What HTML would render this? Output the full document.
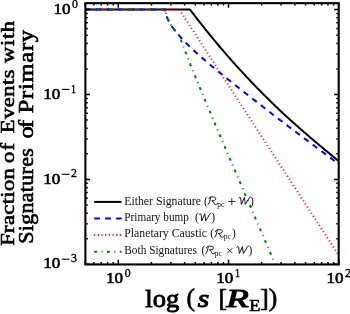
<!DOCTYPE html>
<html><head><meta charset="utf-8"><title>chart</title>
<style>html,body{margin:0;padding:0;background:#fff;width:350px;height:314px;overflow:hidden;font-family:"Liberation Serif",serif}</style></head>
<body>
<svg width="350" height="314" viewBox="0 0 350 314" style="display:block;position:absolute;left:0;top:0;will-change:transform">
<rect width="350" height="314" fill="#fff"/>
<defs><clipPath id="c"><rect x="85.40" y="3.15" width="253.30" height="261.30"/></clipPath></defs>
<g clip-path="url(#c)" fill="none" stroke-width="2">
<path d="M85.13 9.60 L85.76 9.60 L86.39 9.60 L87.03 9.60 L87.66 9.60 L88.30 9.60 L88.93 9.60 L89.56 9.60 L90.20 9.60 L90.83 9.60 L91.47 9.60 L92.10 9.60 L92.73 9.60 L93.37 9.60 L94.00 9.60 L94.64 9.60 L95.27 9.60 L95.90 9.60 L96.54 9.60 L97.17 9.60 L97.81 9.60 L98.44 9.60 L99.07 9.60 L99.71 9.60 L100.34 9.60 L100.97 9.60 L101.61 9.60 L102.24 9.60 L102.88 9.60 L103.51 9.60 L104.14 9.60 L104.78 9.60 L105.41 9.60 L106.05 9.60 L106.68 9.60 L107.31 9.60 L107.95 9.60 L108.58 9.60 L109.22 9.60 L109.85 9.60 L110.48 9.60 L111.12 9.60 L111.75 9.60 L112.39 9.60 L113.02 9.60 L113.65 9.60 L114.29 9.60 L114.92 9.60 L115.56 9.60 L116.19 9.60 L116.82 9.60 L117.46 9.60 L118.09 9.60 L118.72 9.60 L119.36 9.60 L119.99 9.60 L120.63 9.60 L121.26 9.60 L121.89 9.60 L122.53 9.60 L123.16 9.60 L123.80 9.60 L124.43 9.60 L125.06 9.60 L125.70 9.60 L126.33 9.60 L126.97 9.60 L127.60 9.60 L128.23 9.60 L128.87 9.60 L129.50 9.60 L130.14 9.60 L130.77 9.60 L131.40 9.60 L132.04 9.60 L132.67 9.60 L133.31 9.60 L133.94 9.60 L134.57 9.60 L135.21 9.60 L135.84 9.60 L136.48 9.60 L137.11 9.60 L137.74 9.60 L138.38 9.60 L139.01 9.60 L139.64 9.60 L140.28 9.60 L140.91 9.60 L141.55 9.60 L142.18 9.60 L142.81 9.60 L143.45 9.60 L144.08 9.60 L144.72 9.60 L145.35 9.60 L145.98 9.60 L146.62 9.60 L147.25 9.60 L147.89 9.60 L148.52 9.60 L149.15 9.60 L149.79 9.60 L150.42 9.60 L151.06 9.60 L151.69 9.60 L152.32 9.60 L152.96 9.60 L153.59 9.60 L154.23 9.60 L154.86 9.60 L155.49 9.60 L156.13 9.60 L156.76 9.60 L157.39 9.60 L158.03 9.60 L158.66 9.60 L159.30 9.60 L159.93 9.60 L160.56 9.60 L161.20 9.60 L161.83 9.60 L162.47 9.60 L163.10 9.60 L163.73 9.60 L164.37 9.60 L165.00 9.60 L165.64 9.60 L166.27 9.60 L166.90 9.60 L167.54 9.60 L168.17 9.60 L168.81 9.60 L169.44 9.60 L170.07 9.60 L170.71 9.60 L171.34 9.60 L171.98 9.60 L172.61 9.60 L173.24 9.60 L173.88 9.60 L174.51 9.60 L175.15 9.60 L175.78 9.60 L176.41 9.60 L177.05 9.60 L177.68 9.60 L178.31 9.60 L178.95 9.60 L179.58 9.60 L180.22 9.60 L180.85 9.60 L181.48 9.60 L182.12 9.60 L182.75 9.60 L183.39 9.60 L184.02 9.60 L184.65 9.60 L185.29 9.60 L185.92 9.60 L186.56 9.60 L187.19 9.60 L187.82 9.60 L188.46 9.60 L189.09 9.60 L189.73 9.60 L190.36 9.98 L190.99 10.82 L191.63 11.65 L192.26 12.49 L192.90 13.32 L193.53 14.15 L194.16 14.98 L194.80 15.81 L195.43 16.64 L196.06 17.46 L196.70 18.28 L197.33 19.10 L197.97 19.91 L198.60 20.73 L199.23 21.54 L199.87 22.35 L200.50 23.16 L201.14 23.96 L201.77 24.77 L202.40 25.57 L203.04 26.37 L203.67 27.17 L204.31 27.96 L204.94 28.75 L205.57 29.55 L206.21 30.34 L206.84 31.13 L207.48 31.91 L208.11 32.70 L208.74 33.48 L209.38 34.26 L210.01 35.04 L210.65 35.81 L211.28 36.59 L211.91 37.36 L212.55 38.13 L213.18 38.90 L213.82 39.67 L214.45 40.43 L215.08 41.20 L215.72 41.96 L216.35 42.72 L216.98 43.48 L217.62 44.23 L218.25 44.99 L218.89 45.74 L219.52 46.49 L220.15 47.24 L220.79 47.98 L221.42 48.73 L222.06 49.47 L222.69 50.21 L223.32 50.95 L223.96 51.69 L224.59 52.43 L225.23 53.16 L225.86 53.89 L226.49 54.62 L227.13 55.35 L227.76 56.08 L228.40 56.80 L229.03 57.53 L229.66 58.25 L230.30 58.97 L230.93 59.69 L231.57 60.40 L232.20 61.12 L232.83 61.83 L233.47 62.54 L234.10 63.25 L234.73 63.96 L235.37 64.67 L236.00 65.37 L236.64 66.07 L237.27 66.77 L237.90 67.47 L238.54 68.17 L239.17 68.87 L239.81 69.56 L240.44 70.25 L241.07 70.94 L241.71 71.63 L242.34 72.32 L242.98 73.01 L243.61 73.69 L244.24 74.37 L244.88 75.05 L245.51 75.73 L246.15 76.41 L246.78 77.09 L247.41 77.76 L248.05 78.43 L248.68 79.10 L249.32 79.77 L249.95 80.44 L250.58 81.11 L251.22 81.77 L251.85 82.44 L252.49 83.10 L253.12 83.76 L253.75 84.42 L254.39 85.08 L255.02 85.73 L255.65 86.38 L256.29 87.04 L256.92 87.69 L257.56 88.34 L258.19 88.99 L258.82 89.63 L259.46 90.28 L260.09 90.92 L260.73 91.57 L261.36 92.21 L261.99 92.85 L262.63 93.48 L263.26 94.12 L263.90 94.76 L264.53 95.39 L265.16 96.02 L265.80 96.65 L266.43 97.28 L267.07 97.91 L267.70 98.54 L268.33 99.16 L268.97 99.79 L269.60 100.41 L270.24 101.03 L270.87 101.65 L271.50 102.27 L272.14 102.89 L272.77 103.51 L273.40 104.12 L274.04 104.74 L274.67 105.35 L275.31 105.96 L275.94 106.57 L276.57 107.18 L277.21 107.79 L277.84 108.39 L278.48 109.00 L279.11 109.60 L279.74 110.21 L280.38 110.81 L281.01 111.41 L281.65 112.01 L282.28 112.61 L282.91 113.20 L283.55 113.80 L284.18 114.38 L284.82 114.97 L285.45 115.55 L286.08 116.13 L286.72 116.70 L287.35 117.28 L287.99 117.86 L288.62 118.43 L289.25 119.01 L289.89 119.58 L290.52 120.15 L291.15 120.72 L291.79 121.29 L292.42 121.86 L293.06 122.43 L293.69 122.99 L294.32 123.56 L294.96 124.12 L295.59 124.69 L296.23 125.25 L296.86 125.81 L297.49 126.37 L298.13 126.93 L298.76 127.49 L299.40 128.05 L300.03 128.60 L300.66 129.16 L301.30 129.71 L301.93 130.27 L302.57 130.82 L303.20 131.37 L303.83 131.92 L304.47 132.47 L305.10 133.02 L305.74 133.57 L306.37 134.12 L307.00 134.67 L307.64 135.21 L308.27 135.76 L308.91 136.30 L309.54 136.84 L310.17 137.39 L310.81 137.93 L311.44 138.47 L312.07 139.01 L312.71 139.55 L313.34 140.09 L313.98 140.63 L314.61 141.16 L315.24 141.70 L315.88 142.23 L316.51 142.77 L317.15 143.30 L317.78 143.84 L318.41 144.37 L319.05 144.90 L319.68 145.43 L320.32 145.96 L320.95 146.49 L321.58 147.02 L322.22 147.55 L322.85 148.08 L323.49 148.60 L324.12 149.13 L324.75 149.66 L325.39 150.18 L326.02 150.71 L326.66 151.23 L327.29 151.75 L327.92 152.28 L328.56 152.80 L329.19 153.32 L329.82 153.84 L330.46 154.36 L331.09 154.88 L331.73 155.40 L332.36 155.92 L332.99 156.44 L333.63 156.96 L334.26 157.47 L334.90 157.99 L335.53 158.51 L336.16 159.02 L336.80 159.54 L337.43 160.05 L338.07 160.57 L338.70 161.08" stroke="#000"/>
<path d="M85.13 9.60 L85.76 9.60 L86.39 9.60 L87.03 9.60 L87.66 9.60 L88.30 9.60 L88.93 9.60 L89.56 9.60 L90.20 9.60 L90.83 9.60 L91.47 9.60 L92.10 9.60 L92.73 9.60 L93.37 9.60 L94.00 9.60 L94.64 9.60 L95.27 9.60 L95.90 9.60 L96.54 9.60 L97.17 9.60 L97.81 9.60 L98.44 9.60 L99.07 9.60 L99.71 9.60 L100.34 9.60 L100.97 9.60 L101.61 9.60 L102.24 9.60 L102.88 9.60 L103.51 9.60 L104.14 9.60 L104.78 9.60 L105.41 9.60 L106.05 9.60 L106.68 9.60 L107.31 9.60 L107.95 9.60 L108.58 9.60 L109.22 9.60 L109.85 9.60 L110.48 9.60 L111.12 9.60 L111.75 9.60 L112.39 9.60 L113.02 9.60 L113.65 9.60 L114.29 9.60 L114.92 9.60 L115.56 9.60 L116.19 9.60 L116.82 9.60 L117.46 9.60 L118.09 9.60 L118.72 9.60 L119.36 9.60 L119.99 9.60 L120.63 9.60 L121.26 9.60 L121.89 9.60 L122.53 9.60 L123.16 9.60 L123.80 9.60 L124.43 9.60 L125.06 9.60 L125.70 9.60 L126.33 9.60 L126.97 9.60 L127.60 9.60 L128.23 9.60 L128.87 9.60 L129.50 9.60 L130.14 9.60 L130.77 9.60 L131.40 9.60 L132.04 9.60 L132.67 9.60 L133.31 9.60 L133.94 9.60 L134.57 9.60 L135.21 9.60 L135.84 9.60 L136.48 9.60 L137.11 9.60 L137.74 9.60 L138.38 9.60 L139.01 9.60 L139.64 9.60 L140.28 9.60 L140.91 9.60 L141.55 9.60 L142.18 9.60 L142.81 9.60 L143.45 9.60 L144.08 9.60 L144.72 9.60 L145.35 9.60 L145.98 9.60 L146.62 9.60 L147.25 9.60 L147.89 9.60 L148.52 9.60 L149.15 9.60 L149.79 9.60 L150.42 9.60 L151.06 9.60 L151.69 9.60 L152.32 9.60 L152.96 9.60 L153.59 9.60 L154.23 9.60 L154.86 9.60 L155.49 9.60 L156.13 9.60 L156.76 9.60 L157.39 9.60 L158.03 9.60 L158.66 9.60 L159.30 9.60 L159.93 9.60 L160.56 9.60 L161.20 9.60 L161.83 9.60 L162.47 9.60 L163.10 9.60 L163.73 9.60 L164.37 9.60 L165.00 9.60 L165.64 12.54 L166.27 15.20 L166.90 17.06 L167.54 18.62 L168.17 19.99 L168.81 21.24 L169.44 22.40 L170.07 23.49 L170.71 24.53 L171.34 25.52 L171.98 26.47 L172.61 27.39 L173.24 28.28 L173.88 29.14 L174.51 29.98 L175.15 30.80 L175.78 31.61 L176.41 32.39 L177.05 33.16 L177.68 33.92 L178.31 34.67 L178.95 35.40 L179.58 36.12 L180.22 36.83 L180.85 37.53 L181.48 38.22 L182.12 38.90 L182.75 39.58 L183.39 40.25 L184.02 40.91 L184.65 41.56 L185.29 42.21 L185.92 42.85 L186.56 43.49 L187.19 44.12 L187.82 44.75 L188.46 45.37 L189.09 45.98 L189.73 46.59 L190.36 47.20 L190.99 47.80 L191.63 48.40 L192.26 49.00 L192.90 49.59 L193.53 50.18 L194.16 50.76 L194.80 51.35 L195.43 51.93 L196.06 52.50 L196.70 53.07 L197.33 53.65 L197.97 54.21 L198.60 54.78 L199.23 55.34 L199.87 55.90 L200.50 56.46 L201.14 57.02 L201.77 57.57 L202.40 58.12 L203.04 58.67 L203.67 59.22 L204.31 59.77 L204.94 60.31 L205.57 60.86 L206.21 61.40 L206.84 61.94 L207.48 62.48 L208.11 63.02 L208.74 63.55 L209.38 64.09 L210.01 64.62 L210.65 65.15 L211.28 65.68 L211.91 66.21 L212.55 66.74 L213.18 67.27 L213.82 67.79 L214.45 68.32 L215.08 68.84 L215.72 69.36 L216.35 69.88 L216.98 70.40 L217.62 70.92 L218.25 71.44 L218.89 71.96 L219.52 72.48 L220.15 73.00 L220.79 73.51 L221.42 74.03 L222.06 74.54 L222.69 75.05 L223.32 75.57 L223.96 76.08 L224.59 76.59 L225.23 77.10 L225.86 77.61 L226.49 78.12 L227.13 78.63 L227.76 79.14 L228.40 79.65 L229.03 80.15 L229.66 80.66 L230.30 81.17 L230.93 81.67 L231.57 82.18 L232.20 82.68 L232.83 83.19 L233.47 83.69 L234.10 84.20 L234.73 84.70 L235.37 85.20 L236.00 85.71 L236.64 86.21 L237.27 86.71 L237.90 87.21 L238.54 87.71 L239.17 88.21 L239.81 88.71 L240.44 89.21 L241.07 89.71 L241.71 90.21 L242.34 90.71 L242.98 91.21 L243.61 91.71 L244.24 92.21 L244.88 92.70 L245.51 93.20 L246.15 93.70 L246.78 94.20 L247.41 94.69 L248.05 95.19 L248.68 95.69 L249.32 96.18 L249.95 96.68 L250.58 97.18 L251.22 97.67 L251.85 98.17 L252.49 98.66 L253.12 99.16 L253.75 99.65 L254.39 100.15 L255.02 100.64 L255.65 101.14 L256.29 101.63 L256.92 102.12 L257.56 102.62 L258.19 103.11 L258.82 103.61 L259.46 104.10 L260.09 104.59 L260.73 105.09 L261.36 105.58 L261.99 106.07 L262.63 106.57 L263.26 107.06 L263.90 107.55 L264.53 108.04 L265.16 108.54 L265.80 109.03 L266.43 109.52 L267.07 110.01 L267.70 110.50 L268.33 111.00 L268.97 111.49 L269.60 111.98 L270.24 112.47 L270.87 112.96 L271.50 113.45 L272.14 113.95 L272.77 114.44 L273.40 114.93 L274.04 115.42 L274.67 115.91 L275.31 116.40 L275.94 116.89 L276.57 117.38 L277.21 117.87 L277.84 118.37 L278.48 118.86 L279.11 119.35 L279.74 119.84 L280.38 120.33 L281.01 120.82 L281.65 121.31 L282.28 121.80 L282.91 122.29 L283.55 122.78 L284.18 123.26 L284.82 123.73 L285.45 124.21 L286.08 124.68 L286.72 125.16 L287.35 125.63 L287.99 126.11 L288.62 126.58 L289.25 127.06 L289.89 127.53 L290.52 128.01 L291.15 128.48 L291.79 128.96 L292.42 129.43 L293.06 129.91 L293.69 130.38 L294.32 130.86 L294.96 131.33 L295.59 131.81 L296.23 132.28 L296.86 132.76 L297.49 133.23 L298.13 133.71 L298.76 134.18 L299.40 134.66 L300.03 135.13 L300.66 135.60 L301.30 136.08 L301.93 136.55 L302.57 137.03 L303.20 137.50 L303.83 137.98 L304.47 138.45 L305.10 138.93 L305.74 139.40 L306.37 139.88 L307.00 140.35 L307.64 140.82 L308.27 141.30 L308.91 141.77 L309.54 142.25 L310.17 142.72 L310.81 143.20 L311.44 143.67 L312.07 144.15 L312.71 144.62 L313.34 145.09 L313.98 145.57 L314.61 146.04 L315.24 146.52 L315.88 146.99 L316.51 147.47 L317.15 147.94 L317.78 148.41 L318.41 148.89 L319.05 149.36 L319.68 149.84 L320.32 150.31 L320.95 150.79 L321.58 151.26 L322.22 151.73 L322.85 152.21 L323.49 152.68 L324.12 153.16 L324.75 153.63 L325.39 154.11 L326.02 154.58 L326.66 155.05 L327.29 155.53 L327.92 156.00 L328.56 156.48 L329.19 156.95 L329.82 157.43 L330.46 157.90 L331.09 158.37 L331.73 158.85 L332.36 159.32 L332.99 159.80 L333.63 160.27 L334.26 160.74 L334.90 161.22 L335.53 161.69 L336.16 162.17 L336.80 162.64 L337.43 163.12 L338.07 163.59 L338.70 164.06" stroke="#0000ff" stroke-dasharray="5.65 5.22" stroke-dashoffset="0.10"/>
<path d="M85.13 9.60 L85.76 9.60 L86.39 9.60 L87.03 9.60 L87.66 9.60 L88.30 9.60 L88.93 9.60 L89.56 9.60 L90.20 9.60 L90.83 9.60 L91.47 9.60 L92.10 9.60 L92.73 9.60 L93.37 9.60 L94.00 9.60 L94.64 9.60 L95.27 9.60 L95.90 9.60 L96.54 9.60 L97.17 9.60 L97.81 9.60 L98.44 9.60 L99.07 9.60 L99.71 9.60 L100.34 9.60 L100.97 9.60 L101.61 9.60 L102.24 9.60 L102.88 9.60 L103.51 9.60 L104.14 9.60 L104.78 9.60 L105.41 9.60 L106.05 9.60 L106.68 9.60 L107.31 9.60 L107.95 9.60 L108.58 9.60 L109.22 9.60 L109.85 9.60 L110.48 9.60 L111.12 9.60 L111.75 9.60 L112.39 9.60 L113.02 9.60 L113.65 9.60 L114.29 9.60 L114.92 9.60 L115.56 9.60 L116.19 9.60 L116.82 9.60 L117.46 9.60 L118.09 9.60 L118.72 9.60 L119.36 9.60 L119.99 9.60 L120.63 9.60 L121.26 9.60 L121.89 9.60 L122.53 9.60 L123.16 9.60 L123.80 9.60 L124.43 9.60 L125.06 9.60 L125.70 9.60 L126.33 9.60 L126.97 9.60 L127.60 9.60 L128.23 9.60 L128.87 9.60 L129.50 9.60 L130.14 9.60 L130.77 9.60 L131.40 9.60 L132.04 9.60 L132.67 9.60 L133.31 9.60 L133.94 9.60 L134.57 9.60 L135.21 9.60 L135.84 9.60 L136.48 9.60 L137.11 9.60 L137.74 9.60 L138.38 9.60 L139.01 9.60 L139.64 9.60 L140.28 9.60 L140.91 9.60 L141.55 9.60 L142.18 9.60 L142.81 9.60 L143.45 9.60 L144.08 9.60 L144.72 9.60 L145.35 9.60 L145.98 9.60 L146.62 9.60 L147.25 9.60 L147.89 9.60 L148.52 9.60 L149.15 9.60 L149.79 9.60 L150.42 9.60 L151.06 9.60 L151.69 9.60 L152.32 9.60 L152.96 9.60 L153.59 9.60 L154.23 9.60 L154.86 9.60 L155.49 9.60 L156.13 9.60 L156.76 9.60 L157.39 9.60 L158.03 9.60 L158.66 9.60 L159.30 9.60 L159.93 9.60 L160.56 9.60 L161.20 9.60 L161.83 9.60 L162.47 9.60 L163.10 9.60 L163.73 9.60 L164.37 9.60 L165.00 9.60 L165.64 9.60 L166.27 9.60 L166.90 9.60 L167.54 9.60 L168.17 9.60 L168.81 9.60 L169.44 9.60 L170.07 9.60 L170.71 9.60 L171.34 9.60 L171.98 9.60 L172.61 9.60 L173.24 9.60 L173.88 9.60 L174.51 9.60 L175.15 9.60 L175.78 9.60 L176.41 9.60 L177.05 9.60 L177.68 9.60 L178.31 9.60 L178.95 9.60 L179.58 10.08 L180.22 11.06 L180.85 12.03 L181.48 13.01 L182.12 13.99 L182.75 14.96 L183.39 15.94 L184.02 16.92 L184.65 17.89 L185.29 18.87 L185.92 19.85 L186.56 20.82 L187.19 21.80 L187.82 22.78 L188.46 23.76 L189.09 24.73 L189.73 25.71 L190.36 26.69 L190.99 27.66 L191.63 28.64 L192.26 29.62 L192.90 30.59 L193.53 31.57 L194.16 32.55 L194.80 33.52 L195.43 34.50 L196.06 35.48 L196.70 36.45 L197.33 37.43 L197.97 38.41 L198.60 39.38 L199.23 40.36 L199.87 41.34 L200.50 42.31 L201.14 43.29 L201.77 44.27 L202.40 45.24 L203.04 46.22 L203.67 47.20 L204.31 48.17 L204.94 49.15 L205.57 50.13 L206.21 51.11 L206.84 52.08 L207.48 53.06 L208.11 54.04 L208.74 55.01 L209.38 55.99 L210.01 56.97 L210.65 57.94 L211.28 58.92 L211.91 59.90 L212.55 60.87 L213.18 61.85 L213.82 62.83 L214.45 63.80 L215.08 64.78 L215.72 65.76 L216.35 66.73 L216.98 67.71 L217.62 68.69 L218.25 69.66 L218.89 70.64 L219.52 71.62 L220.15 72.59 L220.79 73.57 L221.42 74.55 L222.06 75.52 L222.69 76.50 L223.32 77.48 L223.96 78.46 L224.59 79.43 L225.23 80.41 L225.86 81.39 L226.49 82.36 L227.13 83.34 L227.76 84.32 L228.40 85.29 L229.03 86.27 L229.66 87.25 L230.30 88.22 L230.93 89.20 L231.57 90.18 L232.20 91.15 L232.83 92.13 L233.47 93.11 L234.10 94.08 L234.73 95.06 L235.37 96.04 L236.00 97.01 L236.64 97.99 L237.27 98.97 L237.90 99.94 L238.54 100.92 L239.17 101.90 L239.81 102.87 L240.44 103.85 L241.07 104.83 L241.71 105.81 L242.34 106.78 L242.98 107.76 L243.61 108.74 L244.24 109.71 L244.88 110.69 L245.51 111.67 L246.15 112.64 L246.78 113.62 L247.41 114.60 L248.05 115.57 L248.68 116.55 L249.32 117.53 L249.95 118.50 L250.58 119.48 L251.22 120.46 L251.85 121.43 L252.49 122.41 L253.12 123.39 L253.75 124.36 L254.39 125.34 L255.02 126.32 L255.65 127.29 L256.29 128.27 L256.92 129.25 L257.56 130.22 L258.19 131.20 L258.82 132.18 L259.46 133.16 L260.09 134.13 L260.73 135.11 L261.36 136.09 L261.99 137.06 L262.63 138.04 L263.26 139.02 L263.90 139.99 L264.53 140.97 L265.16 141.95 L265.80 142.92 L266.43 143.90 L267.07 144.88 L267.70 145.85 L268.33 146.83 L268.97 147.81 L269.60 148.78 L270.24 149.76 L270.87 150.74 L271.50 151.71 L272.14 152.69 L272.77 153.67 L273.40 154.64 L274.04 155.62 L274.67 156.60 L275.31 157.58 L275.94 158.55 L276.57 159.53 L277.21 160.51 L277.84 161.48 L278.48 162.46 L279.11 163.44 L279.74 164.41 L280.38 165.39 L281.01 166.37 L281.65 167.34 L282.28 168.32 L282.91 169.30 L283.55 170.27 L284.18 171.25 L284.82 172.23 L285.45 173.20 L286.08 174.18 L286.72 175.16 L287.35 176.13 L287.99 177.11 L288.62 178.09 L289.25 179.06 L289.89 180.04 L290.52 181.02 L291.15 181.99 L291.79 182.97 L292.42 183.95 L293.06 184.93 L293.69 185.90 L294.32 186.88 L294.96 187.86 L295.59 188.83 L296.23 189.81 L296.86 190.79 L297.49 191.76 L298.13 192.74 L298.76 193.72 L299.40 194.69 L300.03 195.67 L300.66 196.65 L301.30 197.62 L301.93 198.60 L302.57 199.58 L303.20 200.55 L303.83 201.53 L304.47 202.51 L305.10 203.48 L305.74 204.46 L306.37 205.44 L307.00 206.41 L307.64 207.39 L308.27 208.37 L308.91 209.34 L309.54 210.32 L310.17 211.30 L310.81 212.28 L311.44 213.25 L312.07 214.23 L312.71 215.21 L313.34 216.18 L313.98 217.16 L314.61 218.14 L315.24 219.11 L315.88 220.09 L316.51 221.07 L317.15 222.04 L317.78 223.02 L318.41 224.00 L319.05 224.97 L319.68 225.95 L320.32 226.93 L320.95 227.90 L321.58 228.88 L322.22 229.86 L322.85 230.83 L323.49 231.81 L324.12 232.79 L324.75 233.76 L325.39 234.74 L326.02 235.72 L326.66 236.69 L327.29 237.67 L327.92 238.65 L328.56 239.63 L329.19 240.60 L329.82 241.58 L330.46 242.56 L331.09 243.53 L331.73 244.51 L332.36 245.49 L332.99 246.46 L333.63 247.44 L334.26 248.42 L334.90 249.39 L335.53 250.37 L336.16 251.35 L336.80 252.32 L337.43 253.30 L338.07 254.28 L338.70 255.25" stroke="#ff0000" stroke-dasharray="1.0 2.67" stroke-dashoffset="1.40"/>
<path d="M85.13 9.60 L85.76 9.60 L86.39 9.60 L87.03 9.60 L87.66 9.60 L88.30 9.60 L88.93 9.60 L89.56 9.60 L90.20 9.60 L90.83 9.60 L91.47 9.60 L92.10 9.60 L92.73 9.60 L93.37 9.60 L94.00 9.60 L94.64 9.60 L95.27 9.60 L95.90 9.60 L96.54 9.60 L97.17 9.60 L97.81 9.60 L98.44 9.60 L99.07 9.60 L99.71 9.60 L100.34 9.60 L100.97 9.60 L101.61 9.60 L102.24 9.60 L102.88 9.60 L103.51 9.60 L104.14 9.60 L104.78 9.60 L105.41 9.60 L106.05 9.60 L106.68 9.60 L107.31 9.60 L107.95 9.60 L108.58 9.60 L109.22 9.60 L109.85 9.60 L110.48 9.60 L111.12 9.60 L111.75 9.60 L112.39 9.60 L113.02 9.60 L113.65 9.60 L114.29 9.60 L114.92 9.60 L115.56 9.60 L116.19 9.60 L116.82 9.60 L117.46 9.60 L118.09 9.60 L118.72 9.60 L119.36 9.60 L119.99 9.60 L120.63 9.60 L121.26 9.60 L121.89 9.60 L122.53 9.60 L123.16 9.60 L123.80 9.60 L124.43 9.60 L125.06 9.60 L125.70 9.60 L126.33 9.60 L126.97 9.60 L127.60 9.60 L128.23 9.60 L128.87 9.60 L129.50 9.60 L130.14 9.60 L130.77 9.60 L131.40 9.60 L132.04 9.60 L132.67 9.60 L133.31 9.60 L133.94 9.60 L134.57 9.60 L135.21 9.60 L135.84 9.60 L136.48 9.60 L137.11 9.60 L137.74 9.60 L138.38 9.60 L139.01 9.60 L139.64 9.60 L140.28 9.60 L140.91 9.60 L141.55 9.60 L142.18 9.60 L142.81 9.60 L143.45 9.60 L144.08 9.60 L144.72 9.60 L145.35 9.60 L145.98 9.60 L146.62 9.60 L147.25 9.60 L147.89 9.60 L148.52 9.60 L149.15 9.60 L149.79 9.60 L150.42 9.60 L151.06 9.60 L151.69 9.60 L152.32 9.60 L152.96 9.60 L153.59 9.60 L154.23 9.60 L154.86 9.60 L155.49 9.60 L156.13 9.60 L156.76 9.60 L157.39 9.60 L158.03 9.60 L158.66 9.60 L159.30 9.60 L159.93 9.60 L160.56 9.60 L161.20 9.60 L161.83 9.60 L162.47 9.60 L163.10 9.60 L163.73 9.60 L164.37 9.60 L165.00 9.60 L165.64 12.54 L166.27 15.20 L166.90 17.06 L167.54 18.62 L168.17 19.99 L168.81 21.24 L169.44 22.40 L170.07 23.49 L170.71 24.53 L171.34 25.52 L171.98 26.47 L172.61 27.39 L173.24 28.28 L173.88 29.14 L174.51 29.98 L175.15 30.80 L175.78 31.61 L176.41 32.39 L177.05 33.16 L177.68 33.92 L178.31 34.67 L178.95 35.40 L179.58 36.60 L180.22 38.29 L180.85 39.96 L181.48 41.63 L182.12 43.29 L182.75 44.94 L183.39 46.59 L184.02 48.23 L184.65 49.86 L185.29 51.48 L185.92 53.10 L186.56 54.71 L187.19 56.32 L187.82 57.92 L188.46 59.52 L189.09 61.11 L189.73 62.70 L190.36 64.29 L190.99 65.87 L191.63 67.44 L192.26 69.01 L192.90 70.58 L193.53 72.15 L194.16 73.71 L194.80 75.27 L195.43 76.82 L196.06 78.38 L196.70 79.93 L197.33 81.48 L197.97 83.02 L198.60 84.56 L199.23 86.10 L199.87 87.64 L200.50 89.18 L201.14 90.71 L201.77 92.24 L202.40 93.77 L203.04 95.30 L203.67 96.82 L204.31 98.34 L204.94 99.87 L205.57 101.39 L206.21 102.91 L206.84 104.42 L207.48 105.94 L208.11 107.45 L208.74 108.96 L209.38 110.47 L210.01 111.98 L210.65 113.49 L211.28 115.00 L211.91 116.51 L212.55 118.01 L213.18 119.52 L213.82 121.02 L214.45 122.52 L215.08 124.02 L215.72 125.52 L216.35 127.02 L216.98 128.52 L217.62 130.01 L218.25 131.51 L218.89 133.00 L219.52 134.50 L220.15 135.99 L220.79 137.48 L221.42 138.97 L222.06 140.47 L222.69 141.96 L223.32 143.45 L223.96 144.93 L224.59 146.42 L225.23 147.91 L225.86 149.40 L226.49 150.88 L227.13 152.37 L227.76 153.86 L228.40 155.34 L229.03 156.82 L229.66 158.31 L230.30 159.79 L230.93 161.27 L231.57 162.76 L232.20 164.24 L232.83 165.72 L233.47 167.20 L234.10 168.68 L234.73 170.16 L235.37 171.64 L236.00 173.12 L236.64 174.60 L237.27 176.08 L237.90 177.55 L238.54 179.03 L239.17 180.51 L239.81 181.99 L240.44 183.46 L241.07 184.94 L241.71 186.42 L242.34 187.89 L242.98 189.37 L243.61 190.84 L244.24 192.32 L244.88 193.79 L245.51 195.27 L246.15 196.74 L246.78 198.22 L247.41 199.69 L248.05 201.16 L248.68 202.64 L249.32 204.11 L249.95 205.58 L250.58 207.06 L251.22 208.53 L251.85 210.00 L252.49 211.47 L253.12 212.94 L253.75 214.42 L254.39 215.89 L255.02 217.36 L255.65 218.83 L256.29 220.30 L256.92 221.77 L257.56 223.24 L258.19 224.71 L258.82 226.18 L259.46 227.65 L260.09 229.12 L260.73 230.59 L261.36 232.06 L261.99 233.53 L262.63 235.00 L263.26 236.47 L263.90 237.94 L264.53 239.41 L265.16 240.88 L265.80 242.35 L266.43 243.82 L267.07 245.29 L267.70 246.76 L268.33 248.23 L268.97 249.70 L269.60 251.16 L270.24 252.63 L270.87 254.10 L271.50 255.57 L272.14 257.04 L272.77 258.51 L273.40 259.97 L274.04 261.44 L274.67 262.91 L275.31 264.38 L275.34 264.45" stroke="#008000" stroke-dasharray="2.9 4.5 1.0 4.4" stroke-dashoffset="1.00"/>
</g>
<rect x="85.40" y="3.15" width="253.30" height="261.30" fill="none" stroke="#000" stroke-width="2.1"/>
<path d="M85.13 264.45L85.13 262.05M85.13 3.15L85.13 5.55M93.85 264.45L93.85 262.05M93.85 3.15L93.85 5.55M101.23 264.45L101.23 262.05M101.23 3.15L101.23 5.55M107.62 264.45L107.62 262.05M107.62 3.15L107.62 5.55M113.26 264.45L113.26 262.05M113.26 3.15L113.26 5.55M118.30 264.45L118.30 259.85M118.30 3.15L118.30 7.75M151.47 264.45L151.47 262.05M151.47 3.15L151.47 5.55M170.88 264.45L170.88 262.05M170.88 3.15L170.88 5.55M184.65 264.45L184.65 262.05M184.65 3.15L184.65 5.55M195.33 264.45L195.33 262.05M195.33 3.15L195.33 5.55M204.05 264.45L204.05 262.05M204.05 3.15L204.05 5.55M211.43 264.45L211.43 262.05M211.43 3.15L211.43 5.55M217.82 264.45L217.82 262.05M217.82 3.15L217.82 5.55M223.46 264.45L223.46 262.05M223.46 3.15L223.46 5.55M228.50 264.45L228.50 259.85M228.50 3.15L228.50 7.75M261.67 264.45L261.67 262.05M261.67 3.15L261.67 5.55M281.08 264.45L281.08 262.05M281.08 3.15L281.08 5.55M294.85 264.45L294.85 262.05M294.85 3.15L294.85 5.55M305.53 264.45L305.53 262.05M305.53 3.15L305.53 5.55M314.25 264.45L314.25 262.05M314.25 3.15L314.25 5.55M321.63 264.45L321.63 262.05M321.63 3.15L321.63 5.55M328.02 264.45L328.02 262.05M328.02 3.15L328.02 5.55M333.66 264.45L333.66 262.05M333.66 3.15L333.66 5.55M338.70 264.45L338.70 259.85M338.70 3.15L338.70 7.75M85.40 264.30L90.00 264.30M338.70 264.30L334.10 264.30M85.40 238.74L87.80 238.74M338.70 238.74L336.30 238.74M85.40 223.79L87.80 223.79M338.70 223.79L336.30 223.79M85.40 213.19L87.80 213.19M338.70 213.19L336.30 213.19M85.40 204.96L87.80 204.96M338.70 204.96L336.30 204.96M85.40 198.23L87.80 198.23M338.70 198.23L336.30 198.23M85.40 192.55L87.80 192.55M338.70 192.55L336.30 192.55M85.40 187.63L87.80 187.63M338.70 187.63L336.30 187.63M85.40 183.28L87.80 183.28M338.70 183.28L336.30 183.28M85.40 179.40L90.00 179.40M338.70 179.40L334.10 179.40M85.40 153.84L87.80 153.84M338.70 153.84L336.30 153.84M85.40 138.89L87.80 138.89M338.70 138.89L336.30 138.89M85.40 128.29L87.80 128.29M338.70 128.29L336.30 128.29M85.40 120.06L87.80 120.06M338.70 120.06L336.30 120.06M85.40 113.33L87.80 113.33M338.70 113.33L336.30 113.33M85.40 107.65L87.80 107.65M338.70 107.65L336.30 107.65M85.40 102.73L87.80 102.73M338.70 102.73L336.30 102.73M85.40 98.38L87.80 98.38M338.70 98.38L336.30 98.38M85.40 94.50L90.00 94.50M338.70 94.50L334.10 94.50M85.40 68.94L87.80 68.94M338.70 68.94L336.30 68.94M85.40 53.99L87.80 53.99M338.70 53.99L336.30 53.99M85.40 43.39L87.80 43.39M338.70 43.39L336.30 43.39M85.40 35.16L87.80 35.16M338.70 35.16L336.30 35.16M85.40 28.43L87.80 28.43M338.70 28.43L336.30 28.43M85.40 22.75L87.80 22.75M338.70 22.75L336.30 22.75M85.40 17.83L87.80 17.83M338.70 17.83L336.30 17.83M85.40 13.48L87.80 13.48M338.70 13.48L336.30 13.48M85.40 9.60L90.00 9.60M338.70 9.60L334.10 9.60" stroke="#000" stroke-width="1.5" fill="none"/>
<g fill="none" stroke-width="2">
<path d="M94.2 201.9H121.6" stroke="#000"/>
<path d="M94.2 218.4H121.6" stroke="#0000ff" stroke-dasharray="5.7 5.3"/>
<path d="M94.2 235H121.6" stroke="#ff0000" stroke-dasharray="1.0 2.67"/>
<path d="M94.2 251.7H121.6" stroke="#008000" stroke-dasharray="2.9 4.5 1.0 4.4"/>
</g>
<g font-family="'Liberation Serif', serif" font-size="11.6" fill="#111">
<text x="124.3" y="204.5" textLength="76.6" lengthAdjust="spacingAndGlyphs" >Either Signature</text><text x="204.1" y="204.5" >(</text><path d="M2.6 -6.5C2.3 -4.2 1.7 -1.6 0.3 -0.1M1.0 -5.3C1.0 -6.4 2.2 -6.9 3.8 -6.9C5.9 -6.9 7.3 -6.5 7.3 -5.3C7.3 -4.0 5.4 -3.5 3.6 -3.4C5.2 -3.3 5.3 -1.2 6.1 -0.3C6.8 0.4 7.9 -0.1 8.8 -1.0" transform="translate(207.80 204.50) scale(1.100)" fill="none" stroke="#111" stroke-width="0.9" stroke-linejoin="round" stroke-linecap="round"/><text x="217.2" y="206.5" textLength="7.0" lengthAdjust="spacingAndGlyphs" font-size="7.4">pc</text><path d="M228.20 201.50h7.2M231.80 197.90v7.2" stroke="#111" stroke-width="0.85" fill="none"/><path d="M0.2 -6.0C0.6 -6.9 1.7 -7.0 1.9 -6.0L2.6 -0.1L5.4 -6.6L6.2 -0.1C7.6 -2.0 9.0 -4.6 9.9 -6.2C10.2 -6.8 10.5 -7.0 10.8 -6.9" transform="translate(238.60 204.50) scale(1.080)" fill="none" stroke="#111" stroke-width="0.9" stroke-linejoin="round" stroke-linecap="round"/><text x="250.1" y="204.5" >)</text>
<text x="124.3" y="220.9" textLength="64.6" lengthAdjust="spacingAndGlyphs" >Primary bump</text><text x="195.0" y="220.9" >(</text><path d="M0.2 -6.0C0.6 -6.9 1.7 -7.0 1.9 -6.0L2.6 -0.1L5.4 -6.6L6.2 -0.1C7.6 -2.0 9.0 -4.6 9.9 -6.2C10.2 -6.8 10.5 -7.0 10.8 -6.9" transform="translate(199.00 220.90) scale(1.080)" fill="none" stroke="#111" stroke-width="0.9" stroke-linejoin="round" stroke-linecap="round"/><text x="211.2" y="220.9" >)</text>
<text x="124.3" y="237.3" textLength="82.6" lengthAdjust="spacingAndGlyphs" >Planetary Caustic</text><text x="210.2" y="237.3" >(</text><path d="M2.6 -6.5C2.3 -4.2 1.7 -1.6 0.3 -0.1M1.0 -5.3C1.0 -6.4 2.2 -6.9 3.8 -6.9C5.9 -6.9 7.3 -6.5 7.3 -5.3C7.3 -4.0 5.4 -3.5 3.6 -3.4C5.2 -3.3 5.3 -1.2 6.1 -0.3C6.8 0.4 7.9 -0.1 8.8 -1.0" transform="translate(214.40 237.30) scale(1.100)" fill="none" stroke="#111" stroke-width="0.9" stroke-linejoin="round" stroke-linecap="round"/><text x="223.8" y="239.3" textLength="7.0" lengthAdjust="spacingAndGlyphs" font-size="7.4">pc</text><text x="232.0" y="237.3" >)</text>
<text x="124.3" y="253.7" textLength="72.6" lengthAdjust="spacingAndGlyphs" >Both Signatures</text><text x="201.6" y="253.7" >(</text><path d="M2.6 -6.5C2.3 -4.2 1.7 -1.6 0.3 -0.1M1.0 -5.3C1.0 -6.4 2.2 -6.9 3.8 -6.9C5.9 -6.9 7.3 -6.5 7.3 -5.3C7.3 -4.0 5.4 -3.5 3.6 -3.4C5.2 -3.3 5.3 -1.2 6.1 -0.3C6.8 0.4 7.9 -0.1 8.8 -1.0" transform="translate(205.40 253.70) scale(1.100)" fill="none" stroke="#111" stroke-width="0.9" stroke-linejoin="round" stroke-linecap="round"/><text x="214.8" y="255.7" textLength="7.0" lengthAdjust="spacingAndGlyphs" font-size="7.4">pc</text><path d="M227.20 248.10l5.2 5.2M227.20 253.30l5.2 -5.2" stroke="#111" stroke-width="0.85" fill="none"/><path d="M0.2 -6.0C0.6 -6.9 1.7 -7.0 1.9 -6.0L2.6 -0.1L5.4 -6.6L6.2 -0.1C7.6 -2.0 9.0 -4.6 9.9 -6.2C10.2 -6.8 10.5 -7.0 10.8 -6.9" transform="translate(236.60 253.70) scale(1.080)" fill="none" stroke="#111" stroke-width="0.9" stroke-linejoin="round" stroke-linecap="round"/><text x="248.6" y="253.7" >)</text>
</g>
<g font-family="'Liberation Serif', serif" font-weight="normal" fill="#000" stroke="#000" stroke-width="0.6">
<text x="53.4" y="13.7" font-size="15.4" textLength="17.0" lengthAdjust="spacingAndGlyphs">10</text><text x="71.9" y="7.6" font-size="11.5" textLength="5.9" lengthAdjust="spacingAndGlyphs" stroke-width="0.35">0</text>
<text x="43.2" y="98.6" font-size="15.4" textLength="17.0" lengthAdjust="spacingAndGlyphs">10</text><path d="M61.8 89.4h7.6" stroke-width="1.1" fill="none"/><text x="71.1" y="92.5" font-size="11.5" textLength="5.0" lengthAdjust="spacingAndGlyphs" stroke-width="0.35">1</text>
<text x="43.2" y="183.5" font-size="15.4" textLength="17.0" lengthAdjust="spacingAndGlyphs">10</text><path d="M61.8 174.3h7.6" stroke-width="1.1" fill="none"/><text x="71.1" y="177.4" font-size="11.5" textLength="5.9" lengthAdjust="spacingAndGlyphs" stroke-width="0.35">2</text>
<text x="43.2" y="268.4" font-size="15.4" textLength="17.0" lengthAdjust="spacingAndGlyphs">10</text><path d="M61.8 259.2h7.6" stroke-width="1.1" fill="none"/><text x="71.1" y="262.3" font-size="11.5" textLength="5.9" lengthAdjust="spacingAndGlyphs" stroke-width="0.35">3</text>
<text x="106.1" y="283.3" font-size="15.4" textLength="17.0" lengthAdjust="spacingAndGlyphs">10</text><text x="124.7" y="277.2" font-size="11.5" textLength="5.9" lengthAdjust="spacingAndGlyphs" stroke-width="0.35">0</text>
<text x="216.3" y="283.3" font-size="15.4" textLength="17.0" lengthAdjust="spacingAndGlyphs">10</text><text x="234.9" y="277.2" font-size="11.5" textLength="5.0" lengthAdjust="spacingAndGlyphs" stroke-width="0.35">1</text>
<text x="326.5" y="283.3" font-size="15.4" textLength="17.0" lengthAdjust="spacingAndGlyphs">10</text><text x="345.1" y="277.2" font-size="11.5" textLength="5.9" lengthAdjust="spacingAndGlyphs" stroke-width="0.35">2</text>
</g>
<g font-family="'Liberation Serif', serif" font-weight="bold" fill="#000">
<text transform="translate(14.2 245.8) rotate(-90) scale(1.250 1)" font-size="18.0" textLength="62.1" lengthAdjust="spacing" font-weight="normal" stroke="#000" stroke-width="0.62">Fraction</text>
<text transform="translate(14.2 162.9) rotate(-90) scale(1.250 1)" font-size="18.0" textLength="15.9" lengthAdjust="spacing" font-weight="normal" stroke="#000" stroke-width="0.62">of</text>
<text transform="translate(14.2 133.3) rotate(-90) scale(1.250 1)" font-size="18.0" textLength="51.0" lengthAdjust="spacing" font-weight="normal" stroke="#000" stroke-width="0.62">Events</text>
<text transform="translate(14.2 62.9) rotate(-90) scale(1.250 1)" font-size="18.0" textLength="33.6" lengthAdjust="spacing" font-weight="normal" stroke="#000" stroke-width="0.62">with</text>
<text transform="translate(33.2 243.7) rotate(-90) scale(1.080 1)" font-size="20.3" textLength="88.4" lengthAdjust="spacing" font-weight="normal" stroke="#000" stroke-width="0.66">Signatures</text>
<text transform="translate(33.2 138.6) rotate(-90) scale(1.200 1)" font-size="20.3" textLength="15.7" lengthAdjust="spacing" font-weight="normal" stroke="#000" stroke-width="0.66">of</text>
<text transform="translate(33.2 113.2) rotate(-90) scale(1.200 1)" font-size="20.3" textLength="69.3" lengthAdjust="spacing" font-weight="normal" stroke="#000" stroke-width="0.66">Primary</text>
<g font-size="25.5" font-weight="normal" stroke="#000" stroke-width="0.9">
<text x="145.3" y="307" textLength="34" lengthAdjust="spacingAndGlyphs">log</text>
<text x="186.6" y="306" stroke-width="0.6">(</text>
<text x="197.8" y="307" font-style="italic" textLength="11.5" lengthAdjust="spacingAndGlyphs" stroke-width="1.0">s</text>
<text x="218.6" y="306" stroke-width="0.7">[</text>
<text x="226.3" y="307" font-style="italic" textLength="22.5" lengthAdjust="spacingAndGlyphs" stroke-width="1.0">R</text>
<text x="249.3" y="310.7" font-size="16.5" textLength="11.2" lengthAdjust="spacingAndGlyphs" stroke-width="0.6">E</text>
<text x="260.3" y="306" stroke-width="0.7">]</text>
<text x="268.8" y="306" stroke-width="0.6">)</text>
</g>
</g>
</svg>
</body></html>
